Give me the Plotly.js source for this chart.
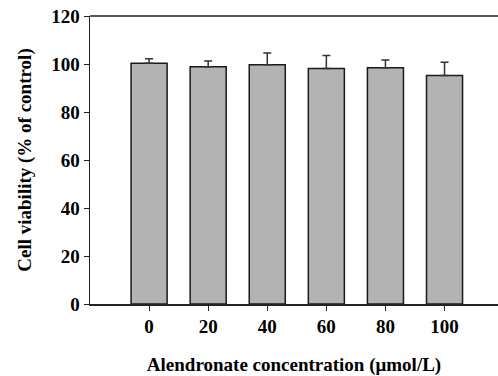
<!DOCTYPE html>
<html>
<head>
<meta charset="utf-8">
<script src="https://cdn.plot.ly/plotly-3.0.1.min.js"></script>
<style>
html,body{margin:0;padding:0;background:#fff;}
#chart{width:498px;height:376px;}
</style>
</head>
<body>
<div id="chart"></div>
<script>
const concentrations = [0, 20, 40, 60, 80, 100];
const viability = [100.3, 98.9, 99.7, 98.1, 98.4, 95.2];
const sdUpper = [1.9, 2.3, 4.9, 5.4, 3.3, 5.5];
const yTicks = [0, 20, 40, 60, 80, 100, 120];

const font = {family: '"Liberation Serif", "Times New Roman", serif', color: '#000'};
const f = (s) => Object.assign({size: s, weight: 'bold'}, font);

const trace = {
  type: 'bar',
  x: concentrations,
  y: viability,
  width: 12.2,
  marker: {color: '#b3b3b3', line: {color: '#1a1a1a', width: 1.5}},
  error_y: {type: 'data', array: sdUpper, arrayminus: sdUpper.map(() => 0), symmetric: false,
            color: '#333', thickness: 1.5, width: 4},
  hoverinfo: 'none'
};

const layout = {
  width: 498, height: 376,
  margin: {l: 90, r: 0, t: 16, b: 72},
  paper_bgcolor: '#fff', plot_bgcolor: '#fff',
  showlegend: false,
  font: f(19),
  xaxis: {
    range: [-20, 118.1],
    tickvals: concentrations, ticktext: concentrations.map(String),
    showgrid: false, zeroline: false,
    showline: true, linecolor: '#222', linewidth: 1.5,
    ticks: 'outside', ticklen: 5, tickwidth: 1, tickcolor: '#222',
    tickfont: f(19),
    title: {text: 'Alendronate concentration (μmol/L)', standoff: 22, font: f(19)}
  },
  yaxis: {
    range: [0, 120],
    tickvals: yTicks, ticktext: yTicks.map(String),
    showgrid: false, zeroline: false,
    showline: true, linecolor: '#222', linewidth: 1.5,
    ticks: 'outside', ticklen: 5, tickwidth: 1, tickcolor: '#222',
    tickfont: f(19),
    title: {text: 'Cell viability (% of control)', standoff: 14, font: f(19)}
  },
  shapes: [{type: 'line', xref: 'paper', yref: 'paper', x0: 0, x1: 1, y0: 1, y1: 1,
            line: {color: '#222', width: 1.5}}]
};

Plotly.newPlot('chart', [trace], layout, {staticPlot: true, displayModeBar: false});
</script>
</body>
</html>
